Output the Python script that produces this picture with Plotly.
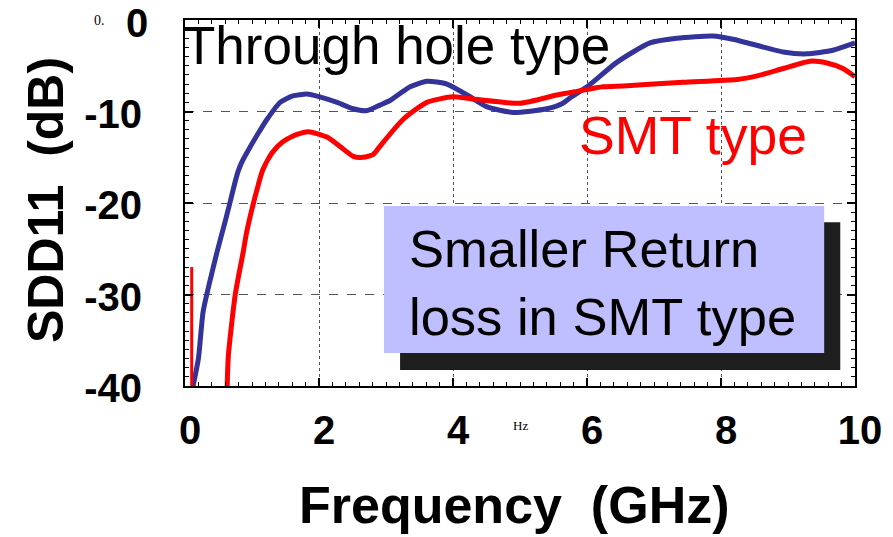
import plotly.graph_objects as go

# Through hole type (blue)
th_freq = [0.12, 0.2, 0.27, 0.37, 0.48, 0.6, 0.67, 0.72, 0.79, 0.85, 0.97, 1.1, 1.22, 1.42, 1.61, 1.82,
           2.01, 2.27, 2.51, 2.72, 2.91, 3.06, 3.36, 3.61, 3.91, 4.21, 4.51, 4.9, 5.4, 5.64, 5.75,
           6.0, 6.45, 6.94, 7.34, 7.88, 8.18, 8.93, 9.28, 9.67, 10.0]
th_sdd11 = [-40, -37, -31.9, -28.6, -25.3, -22, -20, -18.5, -16.6, -15.5, -13.9, -12.3, -10.9, -9, -8.3, -8.1,
            -8.4, -9, -9.7, -9.9, -9.3, -8.8, -7.3, -6.7, -7.0, -8.2, -9.5, -10.1, -9.7, -9.1, -8.5,
            -7.3, -4.6, -2.5, -2.0, -1.75, -2.1, -3.5, -3.7, -3.3, -2.5]

# SMT type (red)
smt_freq = [0.63, 0.646, 0.75, 0.87, 0.92, 1.04, 1.16, 1.3, 1.46, 1.67, 1.84, 2.12, 2.31, 2.51, 2.66,
            2.81, 2.91, 3.25, 3.61, 4.0, 4.36, 5.0, 5.55, 5.85, 6.24, 6.54, 7.43, 8.24, 8.54, 8.93,
            9.33, 9.58, 9.82, 10.0]
smt_sdd11 = [-40, -36.8, -30, -25.3, -23.2, -19.5, -16.4, -14.5, -13.3, -12.5, -12.2, -12.8, -13.8, -14.9, -15,
             -14.7, -13.8, -10.9, -9, -8.4, -8.7, -9.1, -8.2, -7.8, -7.3, -7.2, -6.8, -6.5, -6.1, -5.3,
             -4.5, -4.7, -5.3, -6.2]

# short red stub near 0 GHz
stub_freq = [0.1, 0.1]
stub_sdd11 = [-40, -27]

x_ticks = [0, 2, 4, 6, 8, 10]
y_ticks = [0, -10, -20, -30, -40]

BLUE = "#333399"
RED = "#FF0000"
FONT = "Liberation Sans, Arial, sans-serif"

fig = go.Figure()
fig.add_trace(go.Scatter(x=th_freq, y=th_sdd11, mode="lines",
                         line=dict(color=BLUE, width=5, shape="spline", smoothing=0.6)))
fig.add_trace(go.Scatter(x=smt_freq, y=smt_sdd11, mode="lines",
                         line=dict(color=RED, width=5, shape="spline", smoothing=0.6)))
fig.add_trace(go.Scatter(x=stub_freq, y=stub_sdd11, mode="lines",
                         line=dict(color=RED, width=3)))

# callout box with shadow
fig.add_shape(type="rect", xref="x", yref="y", x0=3.21, x1=9.78, y0=-38.25, y1=-22.1,
              fillcolor="#1E1E1E", line=dict(width=0), layer="above")
fig.add_shape(type="rect", xref="x", yref="y", x0=2.97, x1=9.54, y0=-36.4, y1=-20.33,
              fillcolor="#BFBFFF", line=dict(width=0), layer="above")

fig.add_annotation(x=3.31, y=-28.7, xref="x", yref="y", xanchor="left", yanchor="middle",
                   text="Smaller Return<br>loss in SMT type", showarrow=False, align="left",
                   font=dict(family=FONT, size=52.5, color="black"))
fig.add_annotation(x=0, y=-2.84, xref="x", yref="y", xanchor="left", yanchor="middle", xshift=-4,
                   text="Through hole type", showarrow=False,
                   font=dict(family=FONT, size=53, color="black"))
fig.add_annotation(x=5.9, y=-12.6, xref="x", yref="y", xanchor="left", yanchor="middle", xshift=-3,
                   text="SMT type", showarrow=False,
                   font=dict(family=FONT, size=53.5, color=RED))

# top y tick label "0" placed as an annotation so it stays inside the page
fig.add_annotation(x=-0.0537, y=1.0546, xref="paper", yref="paper", xanchor="right", yanchor="top",
                   text=str(y_ticks[0]), showarrow=False, borderpad=0,
                   font=dict(family=FONT, size=40, color="black", weight="bold"))

# axis titles
fig.add_annotation(x=-0.2075, y=0.508, xref="paper", yref="paper", xanchor="center", yanchor="middle",
                   text="SDD11  (dB)", textangle=-90, showarrow=False,
                   font=dict(family=FONT, size=50, color="black", weight="bold"))
fig.add_annotation(x=0.4925, y=-0.325, xref="paper", yref="paper", xanchor="center", yanchor="middle",
                   text="Frequency  (GHz)", showarrow=False,
                   font=dict(family=FONT, size=52, color="black", weight="bold"))

# stray small texts
fig.add_annotation(x=-0.127, y=1.0, xref="paper", yref="paper", xanchor="center", yanchor="middle",
                   text="0.", showarrow=False,
                   font=dict(family="Liberation Serif, serif", size=14, color="black"))
fig.add_annotation(x=0.5, y=-0.107, xref="paper", yref="paper", xanchor="center", yanchor="middle",
                   text="Hz", showarrow=False,
                   font=dict(family="Liberation Serif, serif", size=13, color="black"))

fig.update_layout(
    width=893, height=537,
    margin=dict(l=185, r=38, t=20, b=151, autoexpand=False),
    paper_bgcolor="white", plot_bgcolor="white",
    showlegend=False,
)
fig.update_xaxes(
    range=[0, 10], tickvals=x_ticks, ticktext=[str(v) for v in x_ticks],
    showline=True, linecolor="black", linewidth=2, mirror="allticks", automargin=False,
    ticks="inside", ticklen=8, tickcolor="black", tickwidth=1.5,
    minor=dict(ticks="inside", dtick=0.2, ticklen=4, tickcolor="black", tickwidth=1, showgrid=False),
    showgrid=True, gridcolor="#555555", gridwidth=1, griddash="dot",
    zeroline=False, ticklabelstandoff=8, ticklabelshift=5, ticklabeloverflow="allow",
    tickfont=dict(family=FONT, size=40, color="black", weight="bold"),
)
fig.update_yaxes(
    range=[-40, 0], tickvals=y_ticks, ticktext=[""] + [str(v) for v in y_ticks[1:]],
    showline=True, linecolor="black", linewidth=2, mirror="allticks", automargin=False,
    ticks="inside", ticklen=8, tickcolor="black", tickwidth=1.5,
    minor=dict(ticks="inside", dtick=1, ticklen=4, tickcolor="black", tickwidth=1, showgrid=False),
    showgrid=True, gridcolor="#555555", gridwidth=1, griddash="dash",
    zeroline=False, ticklabelstandoff=33, ticklabelshift=2, ticklabeloverflow="allow",
    tickfont=dict(family=FONT, size=40, color="black", weight="bold"),
)

fig.write_html("out.html")
